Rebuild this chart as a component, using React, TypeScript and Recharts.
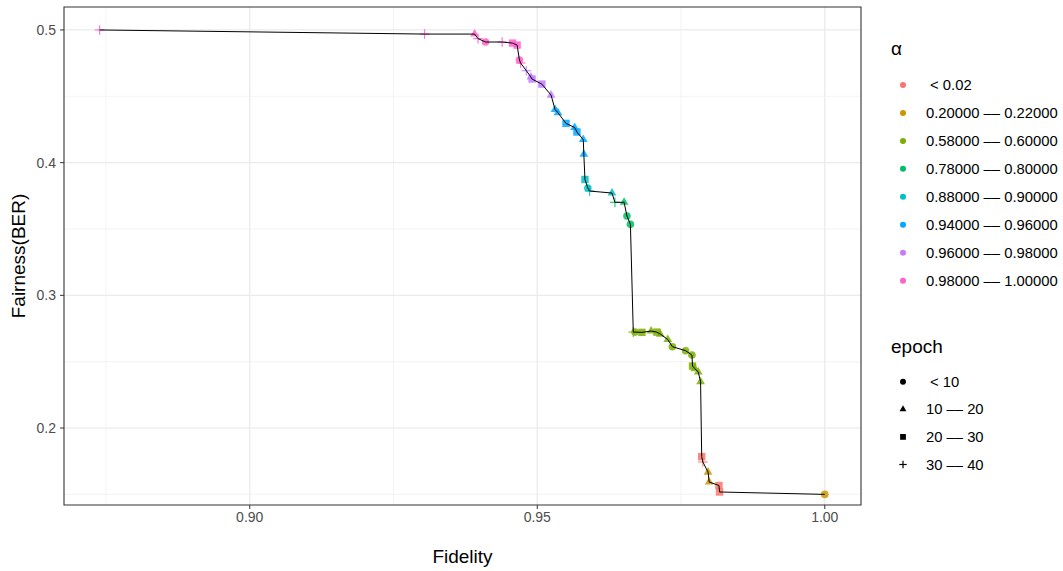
import React from 'react';
import { ScatterChart, Scatter, XAxis, YAxis, CartesianGrid, ReferenceArea, Label } from 'recharts';

// ---- data ----
const fidelity = [
  0.8739, 0.9304, 0.9391, 0.9397, 0.9410, 0.9439, 0.9457, 0.9465, 0.9469, 0.9471,
  0.9481, 0.9489, 0.9491, 0.9508, 0.9524, 0.9531, 0.9536, 0.9550, 0.9565, 0.9569,
  0.9580, 0.9581, 0.9583, 0.9588, 0.9591, 0.9630, 0.9635, 0.9651, 0.9656, 0.9662,
  0.9667, 0.9670, 0.9682, 0.9698, 0.9708, 0.9714, 0.9727, 0.9735, 0.9758, 0.9769,
  0.9770, 0.9774, 0.9780, 0.9784, 0.9786, 0.9788, 0.9797, 0.9799, 0.9816, 0.9817,
  1.0000,
];
const fairness = [
  0.5000, 0.4969, 0.4969, 0.4935, 0.4909, 0.4909, 0.4901, 0.4886, 0.4773, 0.4751,
  0.4693, 0.4645, 0.4630, 0.4592, 0.4509, 0.4400, 0.4376, 0.4296, 0.4265, 0.4231,
  0.4174, 0.4063, 0.3873, 0.3809, 0.3786, 0.3771, 0.3701, 0.3701, 0.3598, 0.3535,
  0.2723, 0.2723, 0.2721, 0.2731, 0.2723, 0.2708, 0.2667, 0.2613, 0.2583, 0.2550,
  0.2467, 0.2448, 0.2422, 0.2349, 0.1784, 0.1744, 0.1668, 0.1593, 0.1567, 0.1518,
  0.1500,
];
// index into alphaLabels
const alphaGroup = [
  7, 7, 7, 7, 7, 7, 7, 7, 7, 7,
  6, 6, 6, 6, 6, 5, 5, 5, 5, 5,
  5, 5, 4, 4, 4, 4, 3, 3, 3, 3,
  2, 2, 2, 2, 2, 2, 2, 2, 2, 2,
  2, 2, 2, 2, 0, 0, 1, 1, 0, 0,
  1,
];
// index into epochLabels
const epochGroup = [
  3, 3, 1, 3, 0, 3, 2, 2, 0, 3,
  3, 1, 2, 2, 1, 1, 1, 2, 1, 2,
  1, 1, 2, 0, 3, 1, 3, 1, 0, 0,
  3, 0, 2, 1, 2, 1, 1, 0, 0, 0,
  2, 1, 1, 1, 2, 3, 1, 1, 2, 2,
  0,
];

const alphaLabels = [
  '\u00a0< 0.02',
  '0.20000 –– 0.22000',
  '0.58000 –– 0.60000',
  '0.78000 –– 0.80000',
  '0.88000 –– 0.90000',
  '0.94000 –– 0.96000',
  '0.96000 –– 0.98000',
  '0.98000 –– 1.00000',
];
const alphaColors = ['#F8766D', '#CD9600', '#7CAE00', '#00BE67', '#00BFC4', '#00A9FF', '#C77CFF', '#FF61CC'];
const epochLabels = ['\u00a0< 10', '10 –– 20', '20 –– 30', '30 –– 40'];

const xTicks = [0.9, 0.95, 1.0];
const yTicks = [0.2, 0.3, 0.4, 0.5];
const xMinor = [0.875, 0.925, 0.975];
const yMinor = [0.15, 0.25, 0.35, 0.45];
const xDomain = [0.8677, 1.0063];
const yDomain = [0.1420, 0.5173];

const points = fidelity.map((x, i) => ({ x, y: fairness[i], alpha: alphaGroup[i], epoch: epochGroup[i] }));
const linePoints = [...points].sort((a, b) => a.x - b.x);

const FONT = '"Liberation Sans", Arial, Helvetica, sans-serif';

function Marker({ cx, cy, kind, color, s = 1, opacity = 1 }: any) {
  if (cx == null || cy == null) return <g />;
  if (kind === 0) return <circle cx={cx} cy={cy} r={3.8 * s} fill={color} fillOpacity={opacity} />;
  if (kind === 1) {
    const side = 8.8 * s;
    const h = (side * Math.sqrt(3)) / 2;
    const pts = `${cx},${cy - (2 * h) / 3} ${cx - side / 2},${cy + h / 3} ${cx + side / 2},${cy + h / 3}`;
    return <polygon points={pts} fill={color} fillOpacity={opacity} />;
  }
  if (kind === 2) {
    const w = 7.4 * s;
    return <rect x={cx - w / 2} y={cy - w / 2} width={w} height={w} fill={color} fillOpacity={opacity} />;
  }
  const l = 4.8 * s;
  return (
    <g stroke={color} strokeOpacity={opacity} strokeWidth={1.2}>
      <line x1={cx - l} y1={cy} x2={cx + l} y2={cy} />
      <line x1={cx} y1={cy - l} x2={cx} y2={cy + l} />
    </g>
  );
}

function LegendBox() {
  const rowH = 27.95;
  return (
    <svg width={200} height={520} style={{ position: 'absolute', left: 863, top: 0 }}>
      <text x={28} y={55} fontFamily={FONT} fontSize={19} fill="#000">α</text>
      {alphaLabels.map((lab, i) => (
        <g key={lab}>
          <circle cx={40} cy={85 + i * rowH} r={3} fill={alphaColors[i]} />
          <text x={63} y={85 + i * rowH + 5} fontFamily={FONT} fontSize={14.8} fill="#000">{lab}</text>
        </g>
      ))}
      <text x={28} y={353} fontFamily={FONT} fontSize={19} fill="#000">epoch</text>
      {epochLabels.map((lab, i) => (
        <g key={lab}>
          <Marker cx={40} cy={381.7 + i * 27.6} kind={i} color="#000" s={0.78} />
          <text x={63} y={381.7 + i * 27.6 + 5} fontFamily={FONT} fontSize={14.8} fill="#000">{lab}</text>
        </g>
      ))}
    </svg>
  );
}

export default function App() {
  return (
    <div style={{ position: 'absolute', left: 0, top: 0, width: 1063, height: 571, background: '#fff' }}>
      <ScatterChart width={1063} height={571} margin={{ top: 7, right: 202, bottom: 0, left: 0 }}>
        <CartesianGrid stroke="#EBEBEB" strokeWidth={0.6} horizontalValues={yMinor} verticalValues={xMinor} />
        <CartesianGrid stroke="#EBEBEB" strokeWidth={1.3} horizontalValues={yTicks} verticalValues={xTicks} />
        <XAxis
          type="number"
          dataKey="x"
          domain={xDomain}
          allowDataOverflow
          ticks={xTicks}
          tickFormatter={(v: number) => v.toFixed(2)}
          axisLine={false}
          tickLine={{ stroke: '#333333' }}
          tickSize={4}
          tickMargin={3}
          height={66}
          tick={{ fill: '#4D4D4D', fontSize: 14, fontFamily: FONT }}
        >
          <Label value="Fidelity" position="insideBottom" offset={8} style={{ fontSize: 19, fontFamily: FONT, fill: '#000' }} />
        </XAxis>
        <YAxis
          type="number"
          dataKey="y"
          domain={yDomain}
          allowDataOverflow
          ticks={yTicks}
          tickFormatter={(v: number) => v.toFixed(1)}
          axisLine={false}
          tickLine={{ stroke: '#333333' }}
          tickSize={4}
          tickMargin={4}
          width={64}
          tick={{ fill: '#4D4D4D', fontSize: 14, fontFamily: FONT }}
        >
          <Label
            value="Fairness(BER)"
            angle={-90}
            position="insideLeft"
            offset={18}
            style={{ fontSize: 19, fontFamily: FONT, fill: '#000', textAnchor: 'middle' }}
          />
        </YAxis>
        {alphaColors.map((c, gi) => (
          <Scatter
            key={c}
            data={points.filter((p) => p.alpha === gi)}
            isAnimationActive={false}
            shape={(props: any) => <Marker cx={props.cx} cy={props.cy} kind={props.payload.epoch} color={c} opacity={0.85} />}
          />
        ))}
        <Scatter
          data={linePoints}
          isAnimationActive={false}
          line={{ stroke: '#000', strokeWidth: 1 }}
          lineType="joint"
          shape={() => <g />}
        />
        <ReferenceArea x1={xDomain[0]} x2={xDomain[1]} y1={yDomain[0]} y2={yDomain[1]} fill="none" stroke="#333333" strokeWidth={1.1} ifOverflow="visible" />
      </ScatterChart>
      <LegendBox />
    </div>
  );
}
